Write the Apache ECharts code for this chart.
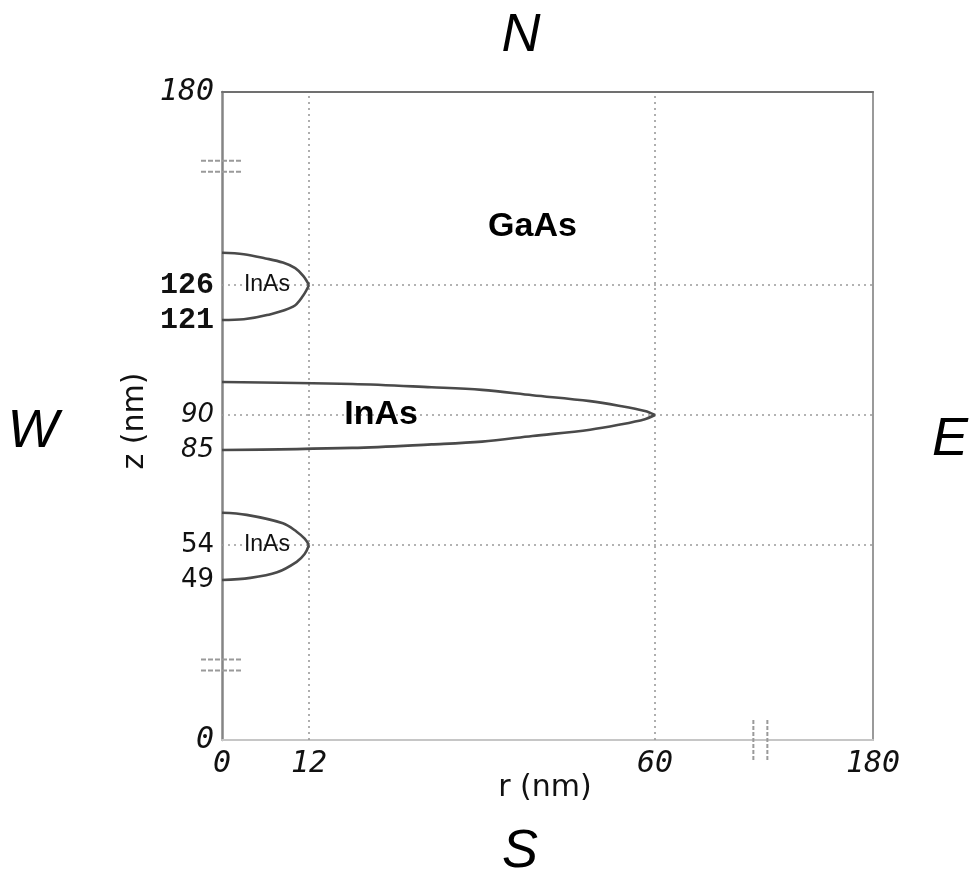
<!DOCTYPE html>
<html><head><meta charset="utf-8">
<script src="https://cdn.jsdelivr.net/npm/echarts@6/dist/echarts.min.js"></script>
<style>html,body{margin:0;padding:0;background:#fff}#c{width:969px;height:876px}</style>
</head><body><div id="c"></div>
<script>
// ---------- data (all in nm) ----------
const rTicks = [0, 12, 60, 180];
const zTicks = [0, 49, 54, 85, 90, 121, 126, 180];
const rGrid = [12, 60];
const zGrid = [54, 90, 126];
const zBreaks = [23, 157];
const rBreaks = [118];

// central InAs quantum disk (z 85..95, r up to 60)
const bigTopR = [0, 18, 29, 36, 43, 51, 55, 58.6, 60];
const bigTopZ = [95, 94.7, 94.2, 93.8, 93.0, 92.1, 91.4, 90.6, 90];
const bigBotR = [0, 18, 29, 36, 43, 51, 55, 58.6, 60];
const bigBotZ = [85, 85.3, 85.8, 86.2, 87.0, 87.9, 88.6, 89.4, 90];

// upper InAs lens (z 121..131, r up to 12)
const upTopR = [0, 3, 6, 8.4, 10.1, 11.2, 12];
const upTopZ = [130.6, 130.4, 129.8, 129.2, 128.4, 127.3, 126];
const upBotR = [0, 3, 6.2, 9.8, 11.2, 12];
const upBotZ = [121, 121.1, 121.7, 122.9, 124.5, 126];

// lower InAs lens (z 49..59, r up to 12)
const loTopR = [0, 3.4, 8.4, 10.3, 11.4, 12];
const loTopZ = [58.6, 58.3, 57.1, 55.9, 54.9, 54];
const loBotR = [0, 3.9, 7.6, 10.3, 11.4, 12];
const loBotZ = [49, 49.3, 50.1, 51.6, 52.7, 54];

// region labels
const regionNames = ['GaAs', 'InAs', 'InAs', 'InAs'];
const regionR = [43, 22, 6.2, 6.2];
const regionZ = [138.4, 90, 126, 54];
const regionKind = ['big', 'big', 'small', 'small'];

// ---------- broken-axis scales (nm -> axis units) ----------
const rScale = { nm: [0, 12, 60, 180], pos: [0, 87, 433, 651] };
const zScale = { nm: [0, 49, 54, 60, 85, 90, 95, 121, 126, 131, 180], pos: [0, 160, 195, 237, 290, 325, 358, 420, 455, 490, 648] };
function piece(s, v) {
  const a = s.nm, b = s.pos;
  for (let i = 0; i < a.length - 1; i++) {
    if (v <= a[i + 1] || i === a.length - 2) {
      return b[i] + (v - a[i]) / (a[i + 1] - a[i]) * (b[i + 1] - b[i]);
    }
  }
}
const mr = v => piece(rScale, v), mz = v => piece(zScale, v);
const X_MAX = mr(180), Y_MAX = mz(180);
const half = (rs, zs) => rs.map((r, i) => [mr(r), mz(zs[i])]);

const rLabel = {}; rTicks.forEach(t => rLabel[Math.round(mr(t))] = t);
const zLabel = {}; zTicks.forEach(t => zLabel[Math.round(mz(t))] = t);
const zStyle = { 180: 'mi', 126: 'cb', 121: 'cb', 90: 'si', 85: 'si', 54: 'su', 49: 'su', 0: 'mi' };

const rich = {
  mi: { fontFamily: 'DejaVu Sans Mono', fontStyle: 'italic', fontSize: 30, color: '#111' },
  cb: { fontFamily: 'Liberation Mono', fontWeight: 'bold', fontSize: 30, color: '#111' },
  si: { fontFamily: 'DejaVu Sans', fontStyle: 'italic', fontSize: 26, color: '#111' },
  su: { fontFamily: 'DejaVu Sans', fontSize: 26, color: '#111' }
};

const lensStyle = { color: '#4a4a4a', width: 2.6 };
const gridStyle = { color: '#9a9a9a', width: 1.6, type: [2, 4] };
const breakStyle = { color: '#9a9a9a', width: 2, type: [4, 2] };

const series = [];
[[bigTopR, bigTopZ], [bigBotR, bigBotZ], [upTopR, upTopZ], [upBotR, upBotZ], [loTopR, loTopZ], [loBotR, loBotZ]].forEach(d => {
  series.push({ type: 'line', data: half(d[0], d[1]), symbol: 'none', smooth: 0.35, lineStyle: lensStyle, z: 5, silent: true });
});
zGrid.forEach(z => series.push({ type: 'line', data: [[0, mz(z)], [X_MAX, mz(z)]], symbol: 'none', lineStyle: gridStyle, z: 3, silent: true }));
rGrid.forEach(r => series.push({ type: 'line', data: [[mr(r), 0], [mr(r), Y_MAX]], symbol: 'none', lineStyle: gridStyle, z: 3, silent: true }));
rBreaks.forEach(r => [-7, 7].forEach(o => series.push({ type: 'line', clip: false, data: [[mr(r) + o, -20], [mr(r) + o, 22]], symbol: 'none', lineStyle: breakStyle, z: 6, silent: true })));
series.push({
  type: 'scatter', symbolSize: 0, silent: true, z: 7,
  itemStyle: { opacity: 1 },
  data: regionNames.map((n, i) => ({
    name: n, value: [mr(regionR[i]), mz(regionZ[i])],
    label: regionKind[i] === 'big'
      ? { fontFamily: 'Liberation Sans', fontWeight: 'bold', fontSize: 34, color: '#000' }
      : { fontFamily: 'Liberation Sans', fontSize: 23, color: '#111' }
  })),
  label: { show: true, position: 'inside', formatter: '{b}', color: '#000' }
});

const chart = echarts.init(document.getElementById('c'));
const compass = (t, x, y) => ({ type: 'text', x, y, style: { text: t, font: 'italic 54px "Liberation Sans"', fill: '#000', textAlign: 'center', textVerticalAlign: 'middle' } });
const graphics = [
  compass('N', 521, 36), compass('S', 520, 852), compass('W', 33, 432), compass('E', 950, 440),
  { type: 'text', x: 545, y: 788, style: { text: 'r (nm)', font: '30px "DejaVu Sans"', fill: '#111', textAlign: 'center', textVerticalAlign: 'middle' } },
  { type: 'text', x: 135, y: 421, rotation: Math.PI / 2, style: { text: 'z (nm)', font: '30px "DejaVu Sans"', fill: '#111', textAlign: 'center', textVerticalAlign: 'middle' } }
];
const option = {
  animation: false,
  backgroundColor: '#fff',
  grid: { left: 222, right: 96, top: 92, bottom: 136, containLabel: false, outerBoundsMode: 'none' },
  xAxis: [{
    type: 'value', min: 0, max: X_MAX, splitLine: { show: false }, axisTick: { show: false },
    axisLine: { show: true, onZero: false, lineStyle: { color: '#c6c6c6', width: 2 } },
    axisLabel: { customValues: rTicks.map(mr), margin: 9, formatter: v => '{mi|' + rLabel[Math.round(v)] + '}', rich: rich }
  }, {
    type: 'value', min: 0, max: X_MAX, position: 'top', splitLine: { show: false }, axisTick: { show: false }, axisLabel: { show: false },
    axisLine: { show: true, onZero: false, lineStyle: { color: '#707070', width: 2 } }
  }],
  yAxis: [{
    type: 'value', min: 0, max: Y_MAX, splitLine: { show: false }, axisTick: { show: false },
    axisLine: { show: true, onZero: false, lineStyle: { color: '#858585', width: 2.5 } },
    axisLabel: { customValues: zTicks.map(mz), margin: 8, formatter: v => { const t = zLabel[Math.round(v)]; return '{' + zStyle[t] + '|' + t + '}'; }, rich: rich }
  }, {
    type: 'value', min: 0, max: Y_MAX, position: 'right', splitLine: { show: false }, axisTick: { show: false }, axisLabel: { show: false },
    axisLine: { show: true, onZero: false, lineStyle: { color: '#9a9a9a', width: 2 } }
  }],
  graphic: graphics,
  series: series
};
chart.setOption(option);
// axis-break marks on the z axis, placed through the axis scale
const extra = [];
zBreaks.forEach(z => {
  const p = chart.convertToPixel({ gridIndex: 0 }, [0, mz(z)]);
  [-5.5, 5.5].forEach(o => extra.push({
    type: 'line', z: 100,
    shape: { x1: p[0] - 21, y1: p[1] + o, x2: p[0] + 21, y2: p[1] + o },
    style: { stroke: '#9a9a9a', lineWidth: 2, lineDash: [5, 2] }
  }));
});
chart.setOption({ graphic: graphics.concat(extra) });
</script></body></html>
